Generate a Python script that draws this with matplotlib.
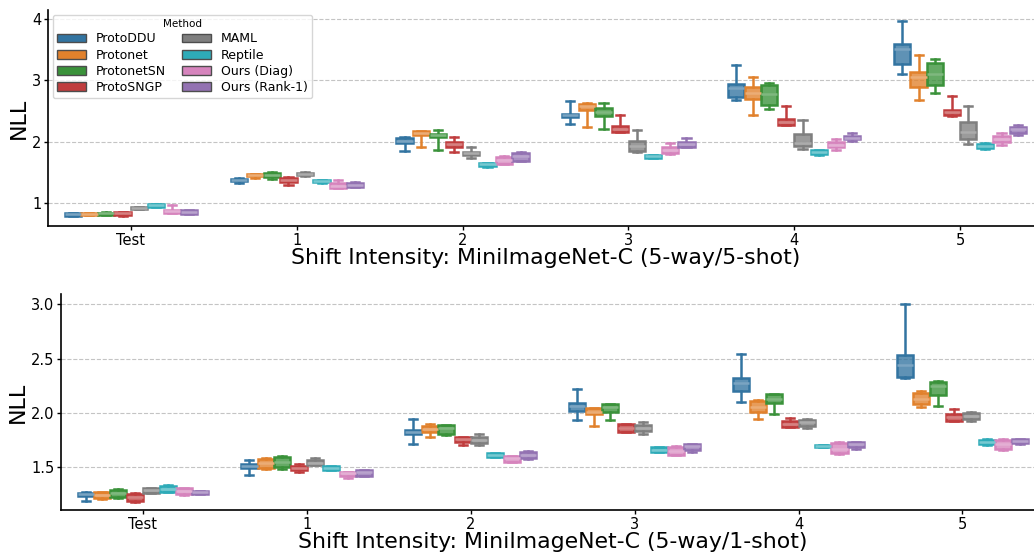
import matplotlib
matplotlib.use("Agg")
import matplotlib.pyplot as plt
from matplotlib.patches import Patch
from matplotlib.colors import to_rgb
import seaborn as sns

groups = ["Test", "1", "2", "3", "4", "5"]
methods = ["ProtoDDU", "Protonet", "ProtonetSN", "ProtoSNGP",
           "MAML", "Reptile", "Ours (Diag)", "Ours (Rank-1)"]
base_colors = ["tab:blue", "tab:orange", "tab:green", "tab:red",
               "tab:gray", "tab:cyan", "tab:pink", "tab:purple"]

# 5-way/5-shot: whisker low, q1, median, q3, whisker high per group
s5_lo = {
    "ProtoDDU":      [0.78, 1.33, 1.85, 2.29, 2.68, 3.11],
    "Protonet":      [0.80, 1.41, 1.92, 2.24, 2.43, 2.68],
    "ProtonetSN":    [0.80, 1.40, 1.87, 2.20, 2.53, 2.79],
    "ProtoSNGP":     [0.79, 1.30, 1.83, 2.16, 2.28, 2.42],
    "MAML":          [0.90, 1.44, 1.73, 1.84, 1.88, 1.97],
    "Reptile":       [0.93, 1.33, 1.59, 1.73, 1.79, 1.88],
    "Ours (Diag)":   [0.84, 1.24, 1.63, 1.80, 1.86, 1.95],
    "Ours (Rank-1)": [0.82, 1.26, 1.68, 1.91, 2.02, 2.11],
}
s5_q1 = {
    "ProtoDDU":      [0.79, 1.36, 1.98, 2.40, 2.73, 3.27],
    "Protonet":      [0.81, 1.44, 2.11, 2.52, 2.70, 2.89],
    "ProtonetSN":    [0.81, 1.42, 2.08, 2.42, 2.60, 2.93],
    "ProtoSNGP":     [0.81, 1.34, 1.91, 2.16, 2.28, 2.43],
    "MAML":          [0.90, 1.45, 1.78, 1.85, 1.93, 2.05],
    "Reptile":       [0.94, 1.35, 1.60, 1.74, 1.80, 1.90],
    "Ours (Diag)":   [0.84, 1.25, 1.64, 1.81, 1.91, 2.00],
    "Ours (Rank-1)": [0.82, 1.26, 1.69, 1.92, 2.04, 2.15],
}
s5_med = {
    "ProtoDDU":      [0.82, 1.38, 2.02, 2.43, 2.88, 3.52],
    "Protonet":      [0.82, 1.46, 2.15, 2.58, 2.79, 3.05],
    "ProtonetSN":    [0.83, 1.46, 2.11, 2.49, 2.78, 3.10],
    "ProtoSNGP":     [0.83, 1.38, 1.96, 2.20, 2.33, 2.48],
    "MAML":          [0.92, 1.47, 1.81, 1.93, 1.98, 2.16],
    "Reptile":       [0.96, 1.36, 1.63, 1.76, 1.83, 1.93],
    "Ours (Diag)":   [0.87, 1.28, 1.70, 1.86, 1.95, 2.04],
    "Ours (Rank-1)": [0.85, 1.30, 1.76, 1.96, 2.06, 2.20],
}
s5_q3 = {
    "ProtoDDU":      [0.84, 1.40, 2.06, 2.46, 2.95, 3.59],
    "Protonet":      [0.83, 1.47, 2.18, 2.62, 2.90, 3.14],
    "ProtonetSN":    [0.84, 1.49, 2.13, 2.55, 2.92, 3.29],
    "ProtoSNGP":     [0.85, 1.41, 2.00, 2.25, 2.37, 2.52],
    "MAML":          [0.93, 1.49, 1.83, 2.02, 2.13, 2.33],
    "Reptile":       [0.98, 1.37, 1.66, 1.79, 1.86, 1.97],
    "Ours (Diag)":   [0.89, 1.32, 1.75, 1.91, 1.99, 2.10],
    "Ours (Rank-1)": [0.88, 1.33, 1.82, 2.00, 2.09, 2.24],
}
s5_hi = {
    "ProtoDDU":      [0.84, 1.41, 2.08, 2.66, 3.25, 3.97],
    "Protonet":      [0.84, 1.48, 2.18, 2.63, 3.05, 3.41],
    "ProtonetSN":    [0.85, 1.51, 2.19, 2.64, 2.96, 3.35],
    "ProtoSNGP":     [0.86, 1.43, 2.08, 2.43, 2.59, 2.75],
    "MAML":          [0.93, 1.50, 1.92, 2.19, 2.36, 2.59],
    "Reptile":       [0.98, 1.38, 1.66, 1.79, 1.86, 1.98],
    "Ours (Diag)":   [0.97, 1.38, 1.77, 1.98, 2.05, 2.14],
    "Ours (Rank-1)": [0.88, 1.34, 1.83, 2.06, 2.14, 2.27],
}

# 5-way/1-shot
s1_lo = {
    "ProtoDDU":      [1.19, 1.43, 1.71, 1.93, 2.10, 2.32],
    "Protonet":      [1.20, 1.48, 1.78, 1.88, 1.94, 2.05],
    "ProtonetSN":    [1.21, 1.48, 1.79, 1.93, 1.99, 2.06],
    "ProtoSNGP":     [1.18, 1.45, 1.70, 1.82, 1.87, 1.92],
    "MAML":          [1.26, 1.52, 1.70, 1.80, 1.86, 1.92],
    "Reptile":       [1.27, 1.47, 1.59, 1.64, 1.68, 1.70],
    "Ours (Diag)":   [1.24, 1.40, 1.55, 1.61, 1.62, 1.66],
    "Ours (Rank-1)": [1.25, 1.42, 1.57, 1.64, 1.67, 1.71],
}
s1_q1 = {
    "ProtoDDU":      [1.23, 1.49, 1.80, 2.02, 2.20, 2.33],
    "Protonet":      [1.21, 1.49, 1.82, 1.99, 2.01, 2.08],
    "ProtonetSN":    [1.22, 1.50, 1.80, 2.01, 2.09, 2.16],
    "ProtoSNGP":     [1.19, 1.47, 1.73, 1.82, 1.87, 1.92],
    "MAML":          [1.26, 1.52, 1.72, 1.83, 1.88, 1.94],
    "Reptile":       [1.27, 1.47, 1.59, 1.64, 1.68, 1.71],
    "Ours (Diag)":   [1.25, 1.42, 1.55, 1.61, 1.63, 1.67],
    "Ours (Rank-1)": [1.25, 1.42, 1.58, 1.66, 1.68, 1.72],
}
s1_med = {
    "ProtoDDU":      [1.25, 1.51, 1.82, 2.06, 2.27, 2.44],
    "Protonet":      [1.24, 1.54, 1.85, 2.01, 2.05, 2.13],
    "ProtonetSN":    [1.26, 1.55, 1.86, 2.05, 2.13, 2.25],
    "ProtoSNGP":     [1.22, 1.49, 1.76, 1.86, 1.90, 1.96],
    "MAML":          [1.29, 1.54, 1.75, 1.86, 1.91, 1.97],
    "Reptile":       [1.30, 1.49, 1.61, 1.66, 1.69, 1.73],
    "Ours (Diag)":   [1.28, 1.44, 1.58, 1.65, 1.67, 1.71],
    "Ours (Rank-1)": [1.27, 1.45, 1.61, 1.69, 1.71, 1.74],
}
s1_q3 = {
    "ProtoDDU":      [1.26, 1.53, 1.84, 2.09, 2.32, 2.53],
    "Protonet":      [1.27, 1.57, 1.88, 2.04, 2.11, 2.18],
    "ProtonetSN":    [1.29, 1.59, 1.89, 2.08, 2.17, 2.28],
    "ProtoSNGP":     [1.25, 1.51, 1.78, 1.90, 1.92, 1.99],
    "MAML":          [1.31, 1.56, 1.78, 1.89, 1.93, 2.00],
    "Reptile":       [1.32, 1.51, 1.63, 1.68, 1.70, 1.75],
    "Ours (Diag)":   [1.31, 1.45, 1.60, 1.68, 1.72, 1.75],
    "Ours (Rank-1)": [1.28, 1.47, 1.64, 1.71, 1.73, 1.76],
}
s1_hi = {
    "ProtoDDU":      [1.27, 1.56, 1.94, 2.22, 2.54, 3.00],
    "Protonet":      [1.27, 1.58, 1.90, 2.04, 2.12, 2.20],
    "ProtonetSN":    [1.30, 1.60, 1.89, 2.08, 2.17, 2.29],
    "ProtoSNGP":     [1.26, 1.53, 1.78, 1.90, 1.95, 2.03],
    "MAML":          [1.31, 1.58, 1.80, 1.91, 1.94, 2.01],
    "Reptile":       [1.33, 1.51, 1.63, 1.68, 1.70, 1.76],
    "Ours (Diag)":   [1.31, 1.45, 1.60, 1.69, 1.73, 1.76],
    "Ours (Rank-1)": [1.28, 1.47, 1.65, 1.71, 1.73, 1.76],
}


def lighten(c, amt):
    r, g, b = to_rgb(c)
    return (r + (1 - r) * amt, g + (1 - g) * amt, b + (1 - b) * amt)


colors = [sns.desaturate(c, 0.75) for c in base_colors]


def draw_panel(ax, lo, q1, med, q3, hi):
    n = len(methods)
    w = 0.8 / n
    for i, m in enumerate(methods):
        stats = []
        for g in range(len(groups)):
            stats.append(dict(whislo=lo[m][g], q1=q1[m][g], med=med[m][g],
                              q3=q3[m][g], whishi=hi[m][g], fliers=[]))
        pos = [g - 0.4 + w * (i + 0.5) for g in range(len(groups))]
        c = colors[i]
        ax.bxp(stats, positions=pos, widths=w * 0.98, patch_artist=True,
               showfliers=False, manage_ticks=False,
               boxprops=dict(facecolor=(*c, 0.78), edgecolor=c, linewidth=1.8),
               whiskerprops=dict(color=c, linewidth=1.8),
               capprops=dict(color=c, linewidth=1.8),
               medianprops=dict(color=lighten(c, 0.35), linewidth=1.8))
    ax.set_xlim(-0.5, len(groups) - 0.5)
    ax.set_xticks(range(len(groups)))
    ax.set_xticklabels(groups)
    ax.yaxis.grid(True, linestyle="--", color="#c4c4c4", linewidth=0.8)
    ax.set_axisbelow(True)
    for s in ["top", "right"]:
        ax.spines[s].set_visible(False)
    for s in ["left", "bottom"]:
        ax.spines[s].set_linewidth(1.2)
    ax.tick_params(labelsize=10.5, width=1.0, length=3, pad=1.8)
    ax.set_ylabel("NLL", fontsize=16, labelpad=2)


fig = plt.figure(figsize=(10.34, 5.55), dpi=100)
ax1 = fig.add_axes([0.0464, 0.5928, 0.9623, 0.3892])
ax2 = fig.add_axes([0.0590, 0.0811, 0.9510, 0.3892])

draw_panel(ax1, s5_lo, s5_q1, s5_med, s5_q3, s5_hi)
ax1.set_ylim(0.625, 4.15)
ax1.set_yticks([1, 2, 3, 4])
ax1.set_xlabel("Shift Intensity: MiniImageNet-C (5-way/5-shot)", fontsize=15.8, labelpad=0)

draw_panel(ax2, s1_lo, s1_q1, s1_med, s1_q3, s1_hi)
ax2.set_ylim(1.103, 3.095)
ax2.set_yticks([1.5, 2.0, 2.5, 3.0])
ax2.set_xlabel("Shift Intensity: MiniImageNet-C (5-way/1-shot)", fontsize=15.8, labelpad=0)

handles = [Patch(facecolor=c, edgecolor="#4d4d4d", label=m) for m, c in zip(methods, colors)]
leg = ax1.legend(handles=handles, title="Method", ncol=2, loc="upper left",
                 fontsize=9, title_fontsize=7.5, columnspacing=1.3,
                 handlelength=2.3, labelspacing=0.25, borderaxespad=0.4,
                 borderpad=0.35)

fig.savefig("out.png", dpi=100)
